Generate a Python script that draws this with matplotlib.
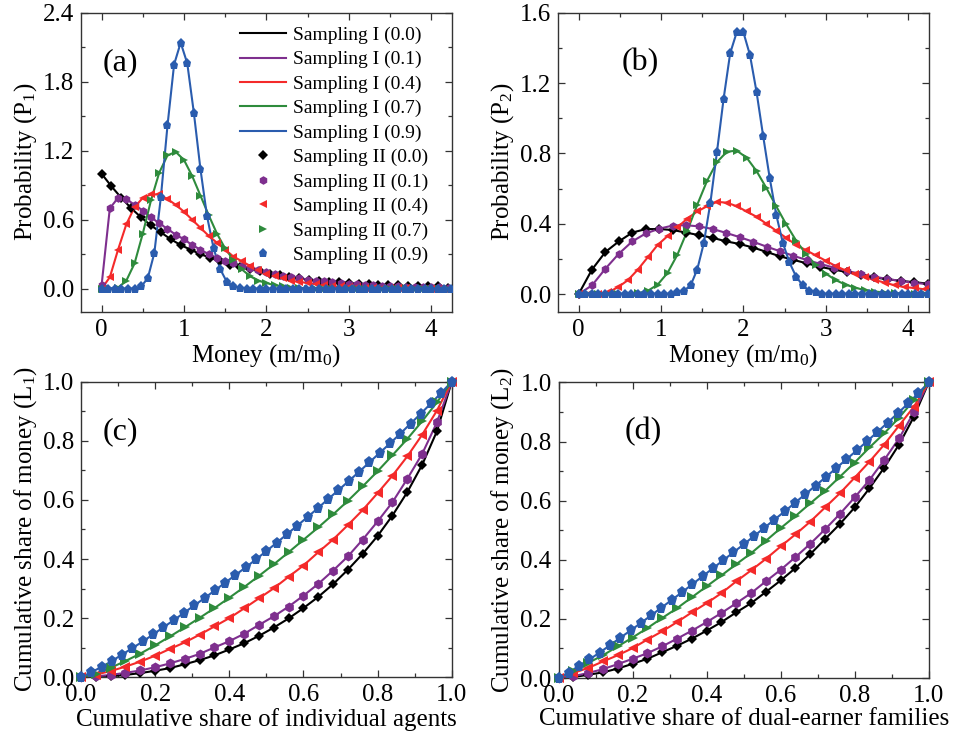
import numpy as np
import matplotlib
matplotlib.use("Agg")
import matplotlib.pyplot as plt
from matplotlib.ticker import MultipleLocator, FormatStrFormatter

plt.rcParams["font.family"] = ["Liberation Serif", "DejaVu Serif"]
plt.rcParams["mathtext.fontset"] = "custom"
plt.rcParams["mathtext.rm"] = "Liberation Serif"
plt.rcParams["mathtext.it"] = "Liberation Serif:italic"

# --- data ------------------------------------------------------------------
lambdas = ["0.0", "0.1", "0.4", "0.7", "0.9"]
colors = ["#000000", "#7E2F8E", "#F42A2A", "#2E8B3C", "#2A5CAE"]
markers = ["D", "h", "<", ">", "p"]
msizes_density = [4.6, 6.2, 6.2, 6.2, 6.8]
msizes_lorenz = [5.2, 7.2, 7.2, 7.2, 8.2]

# bin spacings of the histograms in (a) and (b)
step_a = [0.12, 0.1, 0.1, 0.1, 0.08]
step_b = [0.163, 0.163, 0.12, 0.12, 0.08]

p1_black = [1.00, 0.89, 0.79, 0.70, 0.62, 0.55, 0.49, 0.43, 0.38, 0.34,
            0.30, 0.27, 0.24, 0.21, 0.19, 0.17, 0.15, 0.13, 0.12, 0.10,
            0.09, 0.08, 0.07, 0.06, 0.06, 0.05, 0.04, 0.04, 0.03, 0.03,
            0.03, 0.02, 0.02, 0.02, 0.02, 0.01]
p1_purple = [0.03, 0.70, 0.79, 0.78, 0.73, 0.68, 0.62, 0.57, 0.52, 0.47,
             0.43, 0.38, 0.34, 0.30, 0.27, 0.245, 0.22, 0.20, 0.18, 0.16,
             0.145, 0.13, 0.115, 0.10, 0.09, 0.08, 0.07, 0.063, 0.055, 0.049,
             0.043, 0.038, 0.034, 0.030, 0.026, 0.023, 0.020, 0.018, 0.016, 0.014,
             0.012, 0.011, 0.010]
p1_red = [0.0, 0.10, 0.34, 0.56, 0.71, 0.79, 0.82, 0.82, 0.78, 0.73,
          0.67, 0.60, 0.53, 0.46, 0.40, 0.34, 0.28, 0.24, 0.20, 0.16,
          0.13, 0.11, 0.09, 0.07, 0.06, 0.05, 0.04, 0.03, 0.02, 0.02,
          0.015, 0.012, 0.009, 0.007, 0.006, 0.004, 0.003, 0.003, 0.002, 0.002,
          0.001, 0.001, 0.001]
p1_green = [0.0, 0.0, 0.01, 0.07, 0.22, 0.48, 0.77, 1.01, 1.16, 1.19,
            1.12, 0.98, 0.81, 0.64, 0.48, 0.35, 0.25, 0.17, 0.11, 0.07,
            0.05, 0.03, 0.02, 0.01, 0.01, 0.0, 0.0, 0.0, 0.0, 0.0,
            0.0, 0.0, 0.0, 0.0, 0.0, 0.0, 0.0, 0.0, 0.0, 0.0,
            0.0, 0.0, 0.0]
p1_blue = [0.0, 0.0, 0.0, 0.0, 0.0, 0.0, 0.02, 0.09, 0.31, 0.80,
           1.42, 1.95, 2.14, 1.96, 1.53, 1.04, 0.63, 0.35, 0.17, 0.06,
           0.02, 0.01, 0.0, 0.0, 0.0, 0.0, 0.0, 0.0, 0.0, 0.0,
           0.0, 0.0, 0.0, 0.0, 0.0, 0.0, 0.0, 0.0, 0.0, 0.0,
           0.0, 0.0, 0.0, 0.0, 0.0, 0.0, 0.0, 0.0, 0.0, 0.0,
           0.0, 0.0, 0.0, 0.0]

p2_black = [0.0, 0.14, 0.24, 0.30, 0.35, 0.37, 0.37, 0.365, 0.35, 0.335,
            0.32, 0.30, 0.285, 0.265, 0.24, 0.215, 0.195, 0.175, 0.155, 0.14,
            0.125, 0.11, 0.095, 0.085, 0.075, 0.068, 0.06]
p2_purple = [0.0, 0.05, 0.145, 0.23, 0.30, 0.345, 0.372, 0.39, 0.392, 0.385,
             0.37, 0.348, 0.324, 0.298, 0.27, 0.244, 0.218, 0.194, 0.172, 0.151,
             0.132, 0.115, 0.10, 0.086, 0.075, 0.065, 0.056]
p2_red = [0.0, 0.0, 0.0, 0.01, 0.04, 0.08, 0.14, 0.21, 0.28, 0.33,
          0.38, 0.43, 0.47, 0.50, 0.525, 0.52, 0.50, 0.47, 0.44, 0.40,
          0.36, 0.32, 0.28, 0.25, 0.22, 0.19, 0.16, 0.135, 0.115, 0.095,
          0.08, 0.065, 0.05, 0.04, 0.035, 0.027]
p2_green = [0.0, 0.0, 0.0, 0.0, 0.0, 0.0, 0.005, 0.019, 0.054, 0.121,
            0.225, 0.36, 0.508, 0.645, 0.751, 0.81, 0.816, 0.776, 0.70, 0.603,
            0.499, 0.397, 0.305, 0.228, 0.165, 0.117, 0.08, 0.054, 0.036, 0.023,
            0.015, 0.009, 0.006, 0.003, 0.002, 0.001]
p2_blue = [0.0, 0.0, 0.0, 0.0, 0.0, 0.0, 0.0, 0.0, 0.0, 0.0,
           0.0, 0.0, 0.0, 0.0, 0.0, 0.01, 0.02, 0.05, 0.14, 0.29,
           0.52, 0.81, 1.11, 1.37, 1.49, 1.49, 1.36, 1.15, 0.90, 0.66,
           0.45, 0.29, 0.18, 0.10, 0.05, 0.02, 0.01, 0.0, 0.0, 0.0,
           0.0, 0.0, 0.0, 0.0, 0.0, 0.0, 0.0, 0.0, 0.0, 0.0,
           0.0, 0.0, 0.0, 0.0]

# Lorenz curves: first four series on a 0.04 grid, blue on a 1/36 grid
l1_black = [0, 0.001, 0.003, 0.008, 0.014, 0.022, 0.031, 0.044, 0.058, 0.074,
            0.094, 0.115, 0.14, 0.168, 0.199, 0.234, 0.272, 0.315, 0.364, 0.418,
            0.478, 0.547, 0.626, 0.718, 0.832, 1.0]
l1_purple = [0, 0.003, 0.008, 0.015, 0.023, 0.034, 0.047, 0.062, 0.079, 0.101,
             0.122, 0.147, 0.177, 0.206, 0.239, 0.276, 0.316, 0.361, 0.409, 0.466,
             0.527, 0.592, 0.671, 0.755, 0.862, 1.0]
l1_red = [0, 0.009, 0.021, 0.036, 0.053, 0.073, 0.096, 0.118, 0.144, 0.172,
          0.20, 0.233, 0.267, 0.301, 0.34, 0.378, 0.423, 0.466, 0.515, 0.566,
          0.623, 0.682, 0.747, 0.82, 0.902, 1.0]
l1_green = [0, 0.012, 0.032, 0.055, 0.08, 0.108, 0.138, 0.169, 0.201, 0.234,
            0.269, 0.305, 0.343, 0.382, 0.423, 0.465, 0.507, 0.551, 0.597, 0.646,
            0.697, 0.751, 0.806, 0.866, 0.93, 1.0]
l1_blue = [0, 0.017, 0.035, 0.055, 0.077, 0.099, 0.121, 0.145, 0.169, 0.193,
           0.218, 0.243, 0.268, 0.294, 0.32, 0.346, 0.372, 0.399, 0.427, 0.455,
           0.484, 0.513, 0.542, 0.572, 0.603, 0.633, 0.664, 0.695, 0.727, 0.759,
           0.791, 0.824, 0.858, 0.892, 0.927, 0.963, 1.0]

l2_black = [0, 0.003, 0.011, 0.019, 0.032, 0.048, 0.065, 0.087, 0.109, 0.133,
            0.16, 0.189, 0.222, 0.253, 0.291, 0.33, 0.372, 0.419, 0.47, 0.521,
            0.577, 0.642, 0.712, 0.79, 0.884, 1.0]
l2_purple = [0, 0.006, 0.017, 0.03, 0.047, 0.065, 0.084, 0.107, 0.133, 0.16,
             0.189, 0.22, 0.253, 0.287, 0.327, 0.366, 0.409, 0.454, 0.503, 0.555,
             0.611, 0.67, 0.738, 0.811, 0.899, 1.0]
l2_red = [0, 0.017, 0.034, 0.056, 0.077, 0.101, 0.13, 0.158, 0.189, 0.222,
          0.253, 0.287, 0.327, 0.364, 0.403, 0.445, 0.486, 0.529, 0.577, 0.625,
          0.678, 0.732, 0.79, 0.854, 0.918, 1.0]
l2_green = [0, 0.025, 0.051, 0.077, 0.107, 0.137, 0.169, 0.203, 0.236, 0.273,
            0.31, 0.347, 0.385, 0.422, 0.464, 0.507, 0.548, 0.591, 0.633, 0.681,
            0.729, 0.78, 0.828, 0.881, 0.94, 1.0]
l2_blue = [0, 0.018, 0.042, 0.063, 0.086, 0.111, 0.136, 0.161, 0.186, 0.212,
           0.238, 0.264, 0.290, 0.317, 0.344, 0.371, 0.398, 0.425, 0.452, 0.480,
           0.508, 0.536, 0.564, 0.593, 0.622, 0.651, 0.680, 0.710, 0.740, 0.770,
           0.801, 0.832, 0.864, 0.896, 0.929, 0.964, 1.0]

p1_all = [p1_black, p1_purple, p1_red, p1_green, p1_blue]
p2_all = [p2_black, p2_purple, p2_red, p2_green, p2_blue]
l1_all = [l1_black, l1_purple, l1_red, l1_green, l1_blue]
l2_all = [l2_black, l2_purple, l2_red, l2_green, l2_blue]

TICK_FS = 18
LABEL_FS = 18
LEGEND_FS = 14
LW = 1.5


def style_axes(ax, xmaj, xmin, ymaj, ymin, xfmt, yfmt):
    ax.xaxis.set_major_locator(MultipleLocator(xmaj))
    ax.xaxis.set_minor_locator(MultipleLocator(xmin))
    ax.yaxis.set_major_locator(MultipleLocator(ymaj))
    ax.yaxis.set_minor_locator(MultipleLocator(ymin))
    ax.xaxis.set_major_formatter(FormatStrFormatter(xfmt))
    ax.yaxis.set_major_formatter(FormatStrFormatter(yfmt))
    ax.tick_params(which="both", direction="in", top=True, right=True,
                   labelsize=TICK_FS, width=0.9, color="#333333", pad=5)
    ax.tick_params(which="major", length=5)
    ax.tick_params(which="minor", length=3)
    for sp in ax.spines.values():
        sp.set_linewidth(1.0)
        sp.set_color("#333333")


def plot_density(ax, series, steps):
    for vals, step, c in zip(series, steps, colors):
        x = np.arange(len(vals)) * step
        ax.plot(x, vals, "-", color=c, lw=LW, zorder=2)
    for vals, step, c, m, ms in zip(series, steps, colors, markers, msizes_density):
        x = np.arange(len(vals)) * step
        ax.plot(x, vals, ls="none", marker=m, ms=ms, color=c, mec=c, mew=0, zorder=3)


def plot_lorenz(ax, series):
    for vals, c in zip(series, colors):
        x = np.linspace(0, 1, len(vals))
        ax.plot(x, vals, "-", color=c, lw=LW, zorder=2)
    for vals, c, m, ms in zip(series, colors, markers, msizes_lorenz):
        x = np.linspace(0, 1, len(vals))
        ax.plot(x, vals, ls="none", marker=m, ms=ms, color=c, mec=c, mew=0, zorder=3,
                clip_on=False)


fig = plt.figure(figsize=(9.54, 7.38), dpi=100)
ax_a = fig.add_axes([0.0849, 0.5776, 0.3886, 0.4051])
ax_b = fig.add_axes([0.5849, 0.5776, 0.3886, 0.4051])
ax_c = fig.add_axes([0.0849, 0.0823, 0.3886, 0.4005])
ax_d = fig.add_axes([0.5855, 0.0813, 0.3880, 0.4005])

# (a)
plot_density(ax_a, p1_all, step_a)
ax_a.set_xlim(-0.25, 4.25)
ax_a.set_ylim(-0.2, 2.4)
style_axes(ax_a, 1, 0.5, 0.6, 0.3, "%d", "%.1f")
ax_a.set_xlabel("Money (m/m$_0$)", fontsize=LABEL_FS, labelpad=1)
ax_a.set_ylabel("Probability (P$_1$)", fontsize=LABEL_FS, labelpad=3)

handles = []
for lam, c in zip(lambdas, colors):
    handles.append(plt.Line2D([], [], color=c, lw=LW, label=f"Sampling I ({lam})"))
for lam, c, m, ms in zip(lambdas, colors, markers, msizes_density):
    handles.append(plt.Line2D([], [], ls="none", marker=m, ms=ms, color=c, mew=0,
                              label=f"Sampling II ({lam})"))
ax_a.legend(handles=handles, loc="upper left", bbox_to_anchor=(0.428, 0.955),
            frameon=False, fontsize=LEGEND_FS, handlelength=2.4, handletextpad=0.35,
            labelspacing=0.35, borderpad=0, borderaxespad=0)

# (b)
plot_density(ax_b, p2_all, step_b)
ax_b.set_xlim(-0.25, 4.25)
ax_b.set_ylim(-0.1, 1.6)
style_axes(ax_b, 1, 0.5, 0.4, 0.2, "%d", "%.1f")
ax_b.set_xlabel("Money (m/m$_0$)", fontsize=LABEL_FS, labelpad=1)
ax_b.set_ylabel("Probability (P$_2$)", fontsize=LABEL_FS, labelpad=3)

# (c)
plot_lorenz(ax_c, l1_all)
ax_c.set_xlim(0, 1)
ax_c.set_ylim(0, 1)
style_axes(ax_c, 0.2, 0.1, 0.2, 0.1, "%.1f", "%.1f")
ax_c.set_xlabel("Cumulative share of individual agents", fontsize=LABEL_FS, labelpad=1)
ax_c.set_ylabel("Cumulative share of money (L$_1$)", fontsize=LABEL_FS, labelpad=3)

# (d)
plot_lorenz(ax_d, l2_all)
ax_d.set_xlim(0, 1)
ax_d.set_ylim(0, 1)
style_axes(ax_d, 0.2, 0.1, 0.2, 0.1, "%.1f", "%.1f")
ax_d.set_xlabel("Cumulative share of dual-earner families", fontsize=LABEL_FS, labelpad=1)
ax_d.set_ylabel("Cumulative share of money (L$_2$)", fontsize=LABEL_FS, labelpad=3)

for ax, lab, (px, py) in zip([ax_a, ax_b, ax_c, ax_d], ["(a)", "(b)", "(c)", "(d)"],
                             [(0.105, 0.832), (0.222, 0.832), (0.105, 0.83), (0.23, 0.833)]):
    ax.text(px, py, lab, transform=ax.transAxes, fontsize=23, ha="center", va="center")

fig.savefig("out.png", dpi=100)
